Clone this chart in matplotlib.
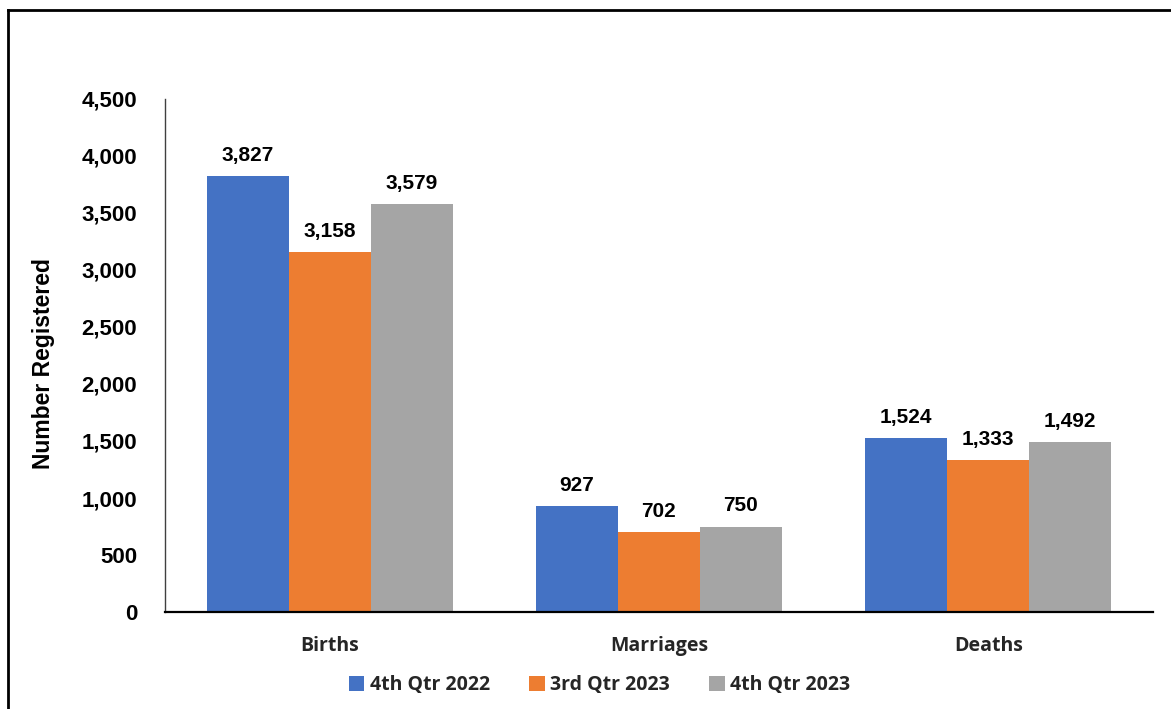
import numpy as np
import matplotlib.pyplot as plt
from matplotlib.lines import Line2D

categories = ["Births", "Marriages", "Deaths"]
series_names = ["4th Qtr 2022", "3rd Qtr 2023", "4th Qtr 2023"]
q4_2022 = [3827, 927, 1524]
q3_2023 = [3158, 702, 1333]
q4_2023 = [3579, 750, 1492]
colors = ["#4472C4", "#ED7D31", "#A5A5A5"]

fig = plt.figure(figsize=(11.71, 7.09), dpi=100)
ax = fig.add_axes([0.1409, 0.1368, 0.8437, 0.7236])

x = np.arange(len(categories))
width = 0.249
for i, (vals, name) in enumerate(zip([q4_2022, q3_2023, q4_2023], series_names)):
    pos = x + (i - 1) * width
    bars = ax.bar(pos, vals, width, color=colors[i], label=name)
    for b, v in zip(bars, vals):
        ax.annotate(f"{v:,}", (b.get_x() + b.get_width() / 2, v),
                    xytext=(0, 8), textcoords="offset points",
                    ha="center", va="bottom", fontsize=15, fontweight="bold",
                    family="Liberation Sans")

ax.set_xlim(-0.5, 2.5)
ax.set_ylim(0, 4500)
ax.set_yticks(np.arange(0, 4501, 500))
ax.set_yticklabels([f"{t:,}" for t in range(0, 4501, 500)],
                   fontsize=16, fontweight="bold", family="Liberation Sans")
ax.set_xticks(x)
ax.set_xticklabels(categories, fontsize=14, fontweight="bold",
                   family="Open Sans", color="#262626")
ax.tick_params(axis="both", length=0)
ax.tick_params(axis="y", pad=20)
ax.tick_params(axis="x", pad=17)
ax.spines["top"].set_visible(False)
ax.spines["right"].set_visible(False)
ax.spines["left"].set_color("#404040")
ax.spines["left"].set_linewidth(1.0)
ax.spines["bottom"].set_linewidth(1.6)
ax.set_ylabel("Number Registered", fontsize=16.5, fontweight="bold",
              family="Liberation Sans")
ax.yaxis.set_label_coords(-0.111, 0.484)

leg = fig.legend(loc="center", bbox_to_anchor=(0.512, 0.034), ncol=3,
                 frameon=False, handlelength=0.8, handleheight=0.8,
                 handletextpad=0.3, columnspacing=2.0,
                 prop={"family": "Open Sans", "weight": "bold", "size": 14})
for t in leg.get_texts():
    t.set_color("#262626")

# outer chart frame (partly cropped)
fig.add_artist(Line2D([8 / 1171, 8 / 1171], [0, 1 - 10 / 709], color="black", lw=2))
fig.add_artist(Line2D([8 / 1171, 1], [1 - 10 / 709, 1 - 10 / 709], color="black", lw=2))

fig.savefig("out.png", dpi=100)
